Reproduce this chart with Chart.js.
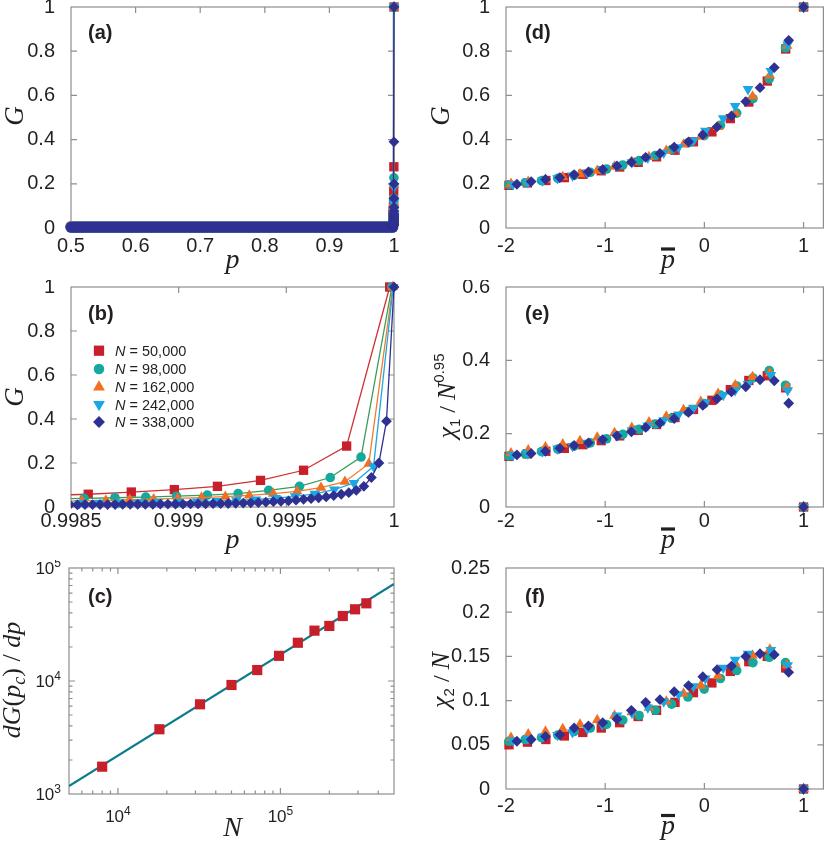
<!DOCTYPE html>
<html><head><meta charset="utf-8">
<script src="https://cdn.jsdelivr.net/npm/chart.js@4.4.1/dist/chart.umd.min.js"></script>
<style>
html,body{margin:0;padding:0;background:#fff;}
#wrap{position:relative;width:830px;height:841px;overflow:hidden;background:#fff;}
canvas{position:absolute;}
</style></head><body>
<div id="wrap">
<canvas id="ca"></canvas><canvas id="cb"></canvas><canvas id="cc"></canvas>
<canvas id="cd"></canvas><canvas id="ce"></canvas><canvas id="cf"></canvas>
</div>
<script>
// ================= DATA =================
// Panel (b) / (a): G versus p for five system sizes
const pRed = [0.99838, 0.99858, 0.99878, 0.99898, 0.99918, 0.99938, 0.99958, 0.99978, 0.99998];
const gRed = [0.052, 0.058, 0.068, 0.079, 0.094, 0.121, 0.167, 0.277, 1.0];

const pTeal = [0.998418, 0.998561, 0.998704, 0.998847, 0.99899, 0.999133, 0.999276, 0.999418, 0.999561, 0.999704, 0.999847, 0.99999];
const gTeal = [0.036, 0.039, 0.042, 0.045, 0.049, 0.054, 0.061, 0.076, 0.094, 0.134, 0.227, 1.0];

const pOrange = [0.99844, 0.998551, 0.998662, 0.998773, 0.998884, 0.998995, 0.999106, 0.999217, 0.999328, 0.999439, 0.99955, 0.999661, 0.999772, 0.999883, 0.999994];
const gOrange = [0.026, 0.028, 0.030, 0.033, 0.036, 0.039, 0.043, 0.047, 0.053, 0.061, 0.071, 0.088, 0.115, 0.197, 1.0];

const pBlue = [0.998449, 0.99854, 0.998631, 0.998722, 0.998813, 0.998904, 0.998995, 0.999086, 0.999177, 0.999268, 0.999359, 0.99945, 0.999541, 0.999632, 0.999723, 0.999814, 0.999905, 0.999996];
const gBlue = [0.018, 0.018, 0.019, 0.020, 0.021, 0.022, 0.023, 0.025, 0.027, 0.030, 0.034, 0.040, 0.048, 0.060, 0.079, 0.109, 0.185, 1.0];

const pNavy = [0.998495, 0.99853, 0.998565, 0.9986, 0.998635, 0.99867, 0.998705, 0.99874, 0.998775, 0.99881, 0.998845, 0.99888, 0.998915, 0.99895, 0.998985, 0.99902, 0.999055, 0.99909, 0.999125, 0.99916, 0.999195, 0.99923, 0.999265, 0.9993, 0.999335, 0.99937, 0.999405, 0.99944, 0.999475, 0.99951, 0.999545, 0.99958, 0.999615, 0.99965, 0.999685, 0.99972, 0.999755, 0.99979, 0.999825, 0.99986, 0.999895, 0.99993, 0.999965, 1.0];
const gNavy = [0.010, 0.010, 0.011, 0.011, 0.011, 0.011, 0.011, 0.012, 0.012, 0.012, 0.012, 0.012, 0.013, 0.013, 0.013, 0.013, 0.014, 0.014, 0.014, 0.015, 0.015, 0.016, 0.017, 0.018, 0.019, 0.020, 0.022, 0.024, 0.026, 0.028, 0.031, 0.035, 0.038, 0.042, 0.046, 0.052, 0.058, 0.065, 0.076, 0.094, 0.134, 0.20, 0.39, 1.0];

// Panel (a): the dense band of G ~ 0 for p between 0.5 and ~0.998
const aBandP = [0.5, 0.998];
const aBandRed = [0.007, 0.007];
const aBandTeal = [0.005, 0.005];
const aBandOrange = [0.006, 0.006];
const aBandBlue = [0.004, 0.004];
const aBandNavy = [0.003, 0.003];

// Panel (c): dG(pc)/dp versus N, with power-law fit
const cN = [8000, 18000, 32000, 50000, 72000, 98000, 128000, 162000, 200000, 242000, 288000, 338000];
const cSlope = [1745, 3740, 6220, 9220, 12500, 16700, 21800, 27900, 30700, 37600, 43100, 48700];
const cFitN = [5000, 500000];
const cFitVal = [1175, 72100];

// Panels (d),(e),(f): scaled p-bar for each size
const xRed = [-1.97, -1.784, -1.598, -1.412, -1.226, -1.04, -0.854, -0.668, -0.482, -0.296, -0.11, 0.076, 0.262, 0.448, 0.634, 0.82, 1.0];
const dRed = [0.193, 0.204, 0.215, 0.228, 0.243, 0.259, 0.276, 0.297, 0.322, 0.352, 0.390, 0.435, 0.495, 0.570, 0.665, 0.810, 1.0];
const eRed = [0.138, 0.145, 0.152, 0.160, 0.170, 0.181, 0.194, 0.209, 0.225, 0.244, 0.266, 0.291, 0.320, 0.345, 0.358, 0.325, 0];
const fRed = [0.050, 0.053, 0.056, 0.060, 0.064, 0.069, 0.075, 0.082, 0.089, 0.098, 0.109, 0.120, 0.133, 0.144, 0.150, 0.137, 0];

const xTeal = [-1.97, -1.806, -1.642, -1.478, -1.314, -1.15, -0.986, -0.822, -0.658, -0.494, -0.33, -0.166, -0.002, 0.162, 0.326, 0.49, 0.654, 0.818, 1.0];
const dTeal = [0.196, 0.205, 0.214, 0.225, 0.238, 0.252, 0.267, 0.285, 0.305, 0.328, 0.355, 0.385, 0.418, 0.465, 0.52, 0.585, 0.675, 0.815, 1.0];
const eTeal = [0.139, 0.145, 0.151, 0.158, 0.166, 0.175, 0.186, 0.198, 0.212, 0.226, 0.242, 0.260, 0.282, 0.305, 0.330, 0.352, 0.372, 0.332, 0];
const fTeal = [0.054, 0.056, 0.058, 0.061, 0.065, 0.069, 0.073, 0.078, 0.083, 0.089, 0.096, 0.104, 0.113, 0.125, 0.134, 0.143, 0.149, 0.143, 0];

const xOrange = [-1.95, -1.776, -1.602, -1.428, -1.254, -1.08, -0.906, -0.732, -0.558, -0.384, -0.21, -0.036, 0.138, 0.312, 0.486, 0.66, 0.834, 1.0];
const dOrange = [0.200, 0.210, 0.219, 0.231, 0.244, 0.259, 0.278, 0.300, 0.322, 0.350, 0.378, 0.413, 0.458, 0.52, 0.595, 0.690, 0.825, 1.0];
const eOrange = [0.147, 0.155, 0.163, 0.171, 0.180, 0.190, 0.202, 0.216, 0.231, 0.247, 0.265, 0.287, 0.309, 0.332, 0.355, 0.365, 0.326, 0];
const fOrange = [0.058, 0.062, 0.065, 0.068, 0.073, 0.078, 0.083, 0.087, 0.092, 0.099, 0.108, 0.117, 0.128, 0.142, 0.151, 0.158, 0.140, 0];

const xBlue = [-1.93, -1.78, -1.63, -1.48, -1.33, -1.18, -1.03, -0.88, -0.73, -0.57, -0.41, -0.26, -0.11, 0.01, 0.19, 0.31, 0.44, 0.67, 0.84, 1.0];
const dBlue = [0.198, 0.207, 0.215, 0.225, 0.237, 0.250, 0.264, 0.280, 0.297, 0.318, 0.340, 0.365, 0.395, 0.44, 0.496, 0.552, 0.628, 0.71, 0.83, 1.0];
const eBlue = [0.142, 0.146, 0.152, 0.159, 0.166, 0.175, 0.184, 0.195, 0.209, 0.222, 0.236, 0.252, 0.270, 0.285, 0.305, 0.318, 0.335, 0.36, 0.318, 0];
const fBlue = [0.055, 0.057, 0.059, 0.061, 0.064, 0.068, 0.073, 0.083, 0.086, 0.092, 0.099, 0.107, 0.116, 0.125, 0.137, 0.146, 0.153, 0.157, 0.140, 0];

const xNavy = [-1.89, -1.746, -1.602, -1.457, -1.313, -1.169, -1.025, -0.881, -0.736, -0.592, -0.448, -0.304, -0.16, -0.016, 0.128, 0.273, 0.417, 0.561, 0.705, 0.85, 1.0];
const dNavy = [0.198, 0.210, 0.220, 0.228, 0.241, 0.254, 0.265, 0.281, 0.298, 0.320, 0.337, 0.366, 0.390, 0.421, 0.458, 0.507, 0.572, 0.635, 0.726, 0.849, 1.0];
const eNavy = [0.142, 0.146, 0.152, 0.160, 0.168, 0.175, 0.184, 0.194, 0.205, 0.217, 0.229, 0.241, 0.258, 0.277, 0.295, 0.314, 0.328, 0.347, 0.344, 0.283, 0];
const fNavy = [0.054, 0.056, 0.0595, 0.0615, 0.069, 0.0715, 0.075, 0.079, 0.089, 0.098, 0.101, 0.110, 0.117, 0.127, 0.135, 0.139, 0.150, 0.153, 0.152, 0.132, 0];

// Legend / tick labels
const legendKeys = ['red', 'teal', 'orange', 'blue', 'navy'];
const legendN = ['50,000', '98,000', '162,000', '242,000', '338,000'];
const ticksA_X = [0.5, 0.6, 0.7, 0.8, 0.9, 1];
const labelsA_X = ['0.5', '0.6', '0.7', '0.8', '0.9', '1'];
const ticksG = [0, 0.2, 0.4, 0.6, 0.8, 1];
const labelsG = ['0', '0.2', '0.4', '0.6', '0.8', '1'];
const ticksB_X = [0.9985, 0.999, 0.9995, 1];
const labelsB_X = ['0.9985', '0.999', '0.9995', '1'];
const ticksC_X = [5000, 6000, 7000, 8000, 9000, 10000, 20000, 30000, 40000, 50000, 60000, 70000, 80000, 90000, 100000, 200000, 300000, 400000, 500000];
const ticksC_Y = [1000, 2000, 3000, 4000, 5000, 6000, 7000, 8000, 9000, 10000, 20000, 30000, 40000, 50000, 60000, 70000, 80000, 90000, 100000];
const decadesC_X = [10000, 100000];
const decadesC_Y = [1000, 10000, 100000];
const ticksPbar = [-2, -1, 0, 1];
const labelsPbar = ['-2', '-1', '0', '1'];
const ticksE_Y = [0, 0.2, 0.4, 0.6];
const labelsE_Y = ['0', '0.2', '0.4', '0.6'];
const ticksF_Y = [0, 0.05, 0.1, 0.15, 0.2, 0.25];
const labelsF_Y = ['0', '0.05', '0.1', '0.15', '0.2', '0.25'];

// ================= STYLE =================
const SANS = '"Liberation Sans", Arial, Helvetica, sans-serif';
const SERIF = '"Liberation Serif", "Times New Roman", serif';
const INK = '#231f20';
const TICKFONT = 20;
const STY = {
  red:    {c:'#c8202b', line:'#cf3036', ps:'rect', r:6.6, rot:0},
  teal:   {c:'#15a89c', line:'#3b9c57', ps:'circle', r:4.8, rot:0},
  orange: {c:'#f26f21', line:'#f37a2c', ps:'triangle', r:6.2, rot:0},
  blue:   {c:'#1ca7e3', line:'#1ca7e3', ps:'triangle', r:6.2, rot:180},
  navy:   {c:'#2e3192', line:'#2e3192', ps:'rectRot', r:5.4, rot:0}
};
const ORDER = {red:9, teal:7, orange:5, blue:3, navy:1};

function pts(xs, ys) { return xs.map((x, i) => ({x: x, y: ys[i]})); }
function ds(key, xs, ys, line, extra) {
  const s = STY[key];
  return Object.assign({
    data: pts(xs, ys), showLine: !!line, borderColor: s.line, borderWidth: 1.3,
    pointStyle: s.ps, pointRadius: s.r, pointHoverRadius: s.r, pointRotation: s.rot,
    pointBackgroundColor: s.c, pointBorderWidth: 0, order: ORDER[key], clip: false
  }, extra || {});
}

// ================= DRAW HELPERS =================
function txt(ctx, s, x, y, font, align) {
  ctx.font = font; ctx.textAlign = align || 'left'; ctx.textBaseline = 'alphabetic';
  ctx.fillStyle = INK; ctx.fillText(s, x, y);
}
function rich(ctx, parts, x, y, rotated) {
  ctx.save();
  let total = 0;
  parts.forEach(p => { ctx.font = p.f; p.w = ctx.measureText(p.t).width; total += p.w; });
  ctx.translate(x, y);
  if (rotated) ctx.rotate(-Math.PI / 2);
  ctx.textBaseline = 'alphabetic'; ctx.textAlign = 'left'; ctx.fillStyle = INK;
  let u = -total / 2;
  parts.forEach(p => { ctx.font = p.f; ctx.fillText(p.t, u, p.dy || 0); u += p.w; });
  ctx.restore();
}
function marker(ctx, s, x, y, k) {
  const r = s.r * (k || 1);
  ctx.beginPath(); ctx.fillStyle = s.c;
  if (s.ps === 'rect') { const h = r * Math.SQRT1_2; ctx.rect(x - h, y - h, 2 * h, 2 * h); }
  else if (s.ps === 'circle') ctx.arc(x, y, r, 0, 2 * Math.PI);
  else if (s.ps === 'triangle') {
    const sg = s.rot ? -1 : 1;
    ctx.moveTo(x, y - sg * r); ctx.lineTo(x + r * 0.866, y + sg * r / 2); ctx.lineTo(x - r * 0.866, y + sg * r / 2); ctx.closePath();
  } else { ctx.moveTo(x - r, y); ctx.lineTo(x, y - r); ctx.lineTo(x + r, y); ctx.lineTo(x, y + r); ctx.closePath(); }
  ctx.fill();
}
function frameTicks(chart) {
  const ctx = chart.ctx, a = chart.chartArea;
  const X = chart.scales.x, Y = chart.scales.y;
  const isMaj = (s, v) => s.type !== 'logarithmic' || Math.abs(Math.log10(v) - Math.round(Math.log10(v))) < 1e-9;
  ctx.save();
  ctx.strokeStyle = '#8e8e8e'; ctx.lineWidth = 1.2;
  ctx.strokeRect(a.left, a.top, a.right - a.left, a.bottom - a.top);
  ctx.beginPath();
  X.ticks.forEach(t => {
    const p = X.getPixelForValue(t.value);
    if (p <= a.left + 1 || p >= a.right - 1) return;
    const L = isMaj(X, t.value) ? 6 : 3.5;
    ctx.moveTo(p, a.bottom); ctx.lineTo(p, a.bottom - L);
    ctx.moveTo(p, a.top); ctx.lineTo(p, a.top + L);
  });
  Y.ticks.forEach(t => {
    const p = Y.getPixelForValue(t.value);
    if (p <= a.top + 1 || p >= a.bottom - 1) return;
    const L = isMaj(Y, t.value) ? 6 : 3.5;
    ctx.moveTo(a.left, p); ctx.lineTo(a.left + L, p);
    ctx.moveTo(a.right, p); ctx.lineTo(a.right - L, p);
  });
  ctx.stroke(); ctx.restore();
}
function panelLabel(ctx, P, s, x, y) { const q = P(x, y); txt(ctx, s, q[0], q[1], 'bold 20px ' + SANS); }
function xTitle(ctx, P, s, cx, base) { const q = P(cx, base); txt(ctx, s, q[0], q[1], 'italic 28px ' + SERIF, 'center'); }
function pbarTitle(ctx, P, cx, base, barY) {
  const q = P(cx, base); txt(ctx, 'p', q[0], q[1], 'italic 28px ' + SERIF, 'center');
  const b = P(cx, barY); ctx.fillStyle = INK; ctx.fillRect(b[0] - 7, b[1] - 1.6, 14, 3.2);
}
function yTitleG(ctx, P, bx, cy) { const q = P(bx, cy); rich(ctx, [{t:'G', f:'italic 27px ' + SERIF}], q[0], q[1], true); }

function makeChart(id, box, area, cfg) {
  const cv = document.getElementById(id);
  cv.width = box.w; cv.height = box.h;
  cv.style.left = box.l + 'px'; cv.style.top = box.t + 'px';
  cv.style.width = box.w + 'px'; cv.style.height = box.h + 'px';
  const axis = (o, horiz) => ({
    type: o.type || 'linear', min: o.min, max: o.max,
    position: horiz ? 'bottom' : 'left',
    grid: {display: false}, border: {display: false},
    ticks: {display: !horiz && !!o.labels, autoSkip: false, maxRotation: 0, minRotation: 0,
      padding: 8, color: INK, font: {family: SANS, size: TICKFONT},
      callback: (v, i) => (o.labels ? o.labels[i] : '')},
    afterBuildTicks: s => { s.ticks = o.ticks.map(v => ({value: v})); },
    afterFit: s => {
      if (horiz) s.height = box.t + box.h - area.b; else s.width = area.l - box.l;
      s.paddingLeft = 0; s.paddingRight = 0; s.paddingTop = 0; s.paddingBottom = 0;
    }
  });
  return new Chart(cv, {
    type: 'scatter',
    data: {datasets: cfg.datasets},
    options: {
      responsive: false, animation: false, devicePixelRatio: 1, events: [],
      layout: {padding: {left: 0, bottom: 0, top: area.t - box.t, right: box.l + box.w - area.r}},
      plugins: {legend: {display: false}, tooltip: {enabled: false}},
      scales: {x: axis(cfg.x, true), y: axis(cfg.y, false)}
    },
    plugins: [{
      id: 'deco' + id,
      beforeDatasetsDraw: ch => frameTicks(ch),
      afterDraw: ch => {
        const P = (x, y) => [x - box.l, y - box.t];
        if (cfg.x.labels) {
          const X = ch.scales.x;
          cfg.x.ticks.forEach((v, i) => {
            txt(ch.ctx, cfg.x.labels[i], X.getPixelForValue(v), P(0, cfg.x.base)[1], TICKFONT + 'px ' + SANS, 'center');
          });
        }
        cfg.extras(ch.ctx, P, ch);
      }
    }]
  });
}

const SER = {
  red: [pRed, gRed], teal: [pTeal, gTeal], orange: [pOrange, gOrange], blue: [pBlue, gBlue], navy: [pNavy, gNavy]
};
const BANDS = {red: aBandRed, teal: aBandTeal, orange: aBandOrange, blue: aBandBlue, navy: aBandNavy};

// ---------- (a) ----------
(function () {
  const clipA = {left: 6, top: 10, right: 10, bottom: 10};
  const datasets = [];
  legendKeys.forEach(k => {
    datasets.push(ds(k, SER[k][0], SER[k][1], true, {clip: clipA}));
    datasets.push({data: pts(aBandP, BANDS[k]), showLine: true, borderColor: STY[k].c, borderWidth: 11,
      borderCapStyle: 'round', pointRadius: 0, pointHoverRadius: 0, order: ORDER[k] + 1, clip: clipA});
  });
  makeChart('ca', {l: 0, t: 0, w: 415, h: 280}, {l: 71, t: 7, r: 394, b: 228}, {
    datasets,
    x: {min: 0.5, max: 1, ticks: ticksA_X, labels: labelsA_X, base: 252},
    y: {min: 0, max: 1, ticks: ticksG, labels: labelsG},
    extras: (ctx, P) => {
      panelLabel(ctx, P, '(a)', 88, 39);
      xTitle(ctx, P, 'p', 232.5, 268);
      yTitleG(ctx, P, 23, 116);
    }
  });
})();

// ---------- (b) ----------
(function () {
  const clipB = {left: 0, top: 10, right: 10, bottom: 10};
  const datasets = legendKeys.map(k => ds(k, SER[k][0], SER[k][1], true, {clip: clipB}));
  makeChart('cb', {l: 0, t: 280, w: 415, h: 280}, {l: 71, t: 287, r: 394, b: 507}, {
    datasets,
    x: {min: 0.9985, max: 1, ticks: ticksB_X, labels: labelsB_X, base: 527},
    y: {min: 0, max: 1, ticks: ticksG, labels: labelsG},
    extras: (ctx, P) => {
      panelLabel(ctx, P, '(b)', 88, 320);
      xTitle(ctx, P, 'p', 232.5, 548);
      yTitleG(ctx, P, 23, 397);
      const rows = [350.7, 369, 387, 404.5, 422];
      legendKeys.forEach((k, i) => {
        const m = P(99, rows[i]); marker(ctx, STY[k], m[0], m[1], 1.1);
        const t = P(115, rows[i] + 5.3);
        ctx.font = 'italic 14.5px ' + SANS; const wN = ctx.measureText('N').width;
        txt(ctx, 'N', t[0], t[1], 'italic 14.5px ' + SANS);
        txt(ctx, ' = ' + legendN[i], t[0] + wN, t[1], '14.5px ' + SANS);
      });
    }
  });
})();

// ---------- (c) ----------
(function () {
  const datasets = [
    {data: pts(cN, cSlope), pointStyle: 'rect', pointRadius: 7.2, pointHoverRadius: 7.2, pointBackgroundColor: '#c8202b',
      pointBorderWidth: 0, showLine: false, order: 1, clip: false},
    {data: pts(cFitN, cFitVal), showLine: true, borderColor: '#0b7d8a', borderWidth: 2.2, pointRadius: 0, pointHoverRadius: 0, order: 2}
  ];
  const box = {l: 0, t: 560, w: 415, h: 281};
  makeChart('cc', box, {l: 69, t: 568, r: 394, b: 794}, {
    datasets,
    x: {type: 'logarithmic', min: 5000, max: 500000, ticks: ticksC_X, labels: null},
    y: {type: 'logarithmic', min: 1000, max: 100000, ticks: ticksC_Y, labels: null},
    extras: (ctx, P, ch) => {
      panelLabel(ctx, P, '(c)', 88, 603);
      xTitle(ctx, P, 'N', 232.5, 836);
      const X = ch.scales.x, Y = ch.scales.y;
      const F1 = '17px ' + SANS, F2 = '12px ' + SANS;
      decadesC_X.forEach(v => {
        const e = String(Math.round(Math.log10(v)));
        ctx.font = F1; const w1 = ctx.measureText('10').width;
        ctx.font = F2; const w2 = ctx.measureText(e).width;
        const px = X.getPixelForValue(v), y0 = P(0, 822)[1];
        const x0 = px - (w1 + w2) / 2;
        txt(ctx, '10', x0, y0, F1); txt(ctx, e, x0 + w1, y0 - 7, F2);
      });
      decadesC_Y.forEach(v => {
        const e = String(Math.round(Math.log10(v)));
        ctx.font = F1; const w1 = ctx.measureText('10').width;
        ctx.font = F2; const w2 = ctx.measureText(e).width;
        const py = Y.getPixelForValue(v), xr = P(61, 0)[0];
        const x0 = xr - (w1 + w2);
        txt(ctx, '10', x0, py + 6, F1); txt(ctx, e, x0 + w1, py - 1, F2);
      });
      const q = P(20, 680);
      rich(ctx, [
        {t:'dG', f:'italic 26px ' + SERIF}, {t:'(', f:'26px ' + SERIF}, {t:'p', f:'italic 26px ' + SERIF},
        {t:'c', f:'italic 18px ' + SERIF, dy: 5}, {t:')', f:'26px ' + SERIF}, {t:' / ', f:'26px ' + SERIF},
        {t:'dp', f:'italic 26px ' + SERIF}
      ], q[0], q[1], true);
    }
  });
})();

// ---------- (d), (e), (f) ----------
const XS = {red: xRed, teal: xTeal, orange: xOrange, blue: xBlue, navy: xNavy};
const DV = {red: dRed, teal: dTeal, orange: dOrange, blue: dBlue, navy: dNavy};
const EV = {red: eRed, teal: eTeal, orange: eOrange, blue: eBlue, navy: eNavy};
const FV = {red: fRed, teal: fTeal, orange: fOrange, blue: fBlue, navy: fNavy};

makeChart('cd', {l: 415, t: 0, w: 415, h: 280}, {l: 506, t: 7, r: 828, b: 228}, {
  datasets: legendKeys.map(k => ds(k, XS[k], DV[k], false)),
  x: {min: -2, max: 1.2, ticks: ticksPbar, labels: labelsPbar, base: 252},
  y: {min: 0, max: 1, ticks: ticksG, labels: labelsG},
  extras: (ctx, P) => {
    panelLabel(ctx, P, '(d)', 525, 39);
    pbarTitle(ctx, P, 668, 268, 249);
    yTitleG(ctx, P, 449, 116);
  }
});

makeChart('ce', {l: 415, t: 280, w: 415, h: 280}, {l: 506, t: 287, r: 828, b: 507}, {
  datasets: legendKeys.map(k => ds(k, XS[k], EV[k], false)),
  x: {min: -2, max: 1.2, ticks: ticksPbar, labels: labelsPbar, base: 527},
  y: {min: 0, max: 0.6, ticks: ticksE_Y, labels: labelsE_Y},
  extras: (ctx, P) => {
    panelLabel(ctx, P, '(e)', 525, 320);
    pbarTitle(ctx, P, 668, 548, 529);
    const q = P(455, 396);
    rich(ctx, [
      {t:'χ', f:'italic 26px ' + SERIF}, {t:'1', f:'15px ' + SANS, dy: 5}, {t:' / ', f:'24px ' + SERIF},
      {t:'N', f:'italic 26px ' + SERIF}, {t:'0.95', f:'15px ' + SANS, dy: -11}
    ], q[0], q[1], true);
  }
});

makeChart('cf', {l: 415, t: 560, w: 415, h: 281}, {l: 506, t: 568, r: 828, b: 789}, {
  datasets: legendKeys.map(k => ds(k, XS[k], FV[k], false)),
  x: {min: -2, max: 1.2, ticks: ticksPbar, labels: labelsPbar, base: 812},
  y: {min: 0, max: 0.25, ticks: ticksF_Y, labels: labelsF_Y},
  extras: (ctx, P) => {
    panelLabel(ctx, P, '(f)', 525, 603);
    pbarTitle(ctx, P, 668, 834, 815.5);
    const q = P(449, 680);
    rich(ctx, [
      {t:'χ', f:'italic 26px ' + SERIF}, {t:'2', f:'15px ' + SANS, dy: 5}, {t:' / ', f:'24px ' + SERIF},
      {t:'N', f:'italic 26px ' + SERIF}
    ], q[0], q[1], true);
  }
});
</script>
</body></html>
